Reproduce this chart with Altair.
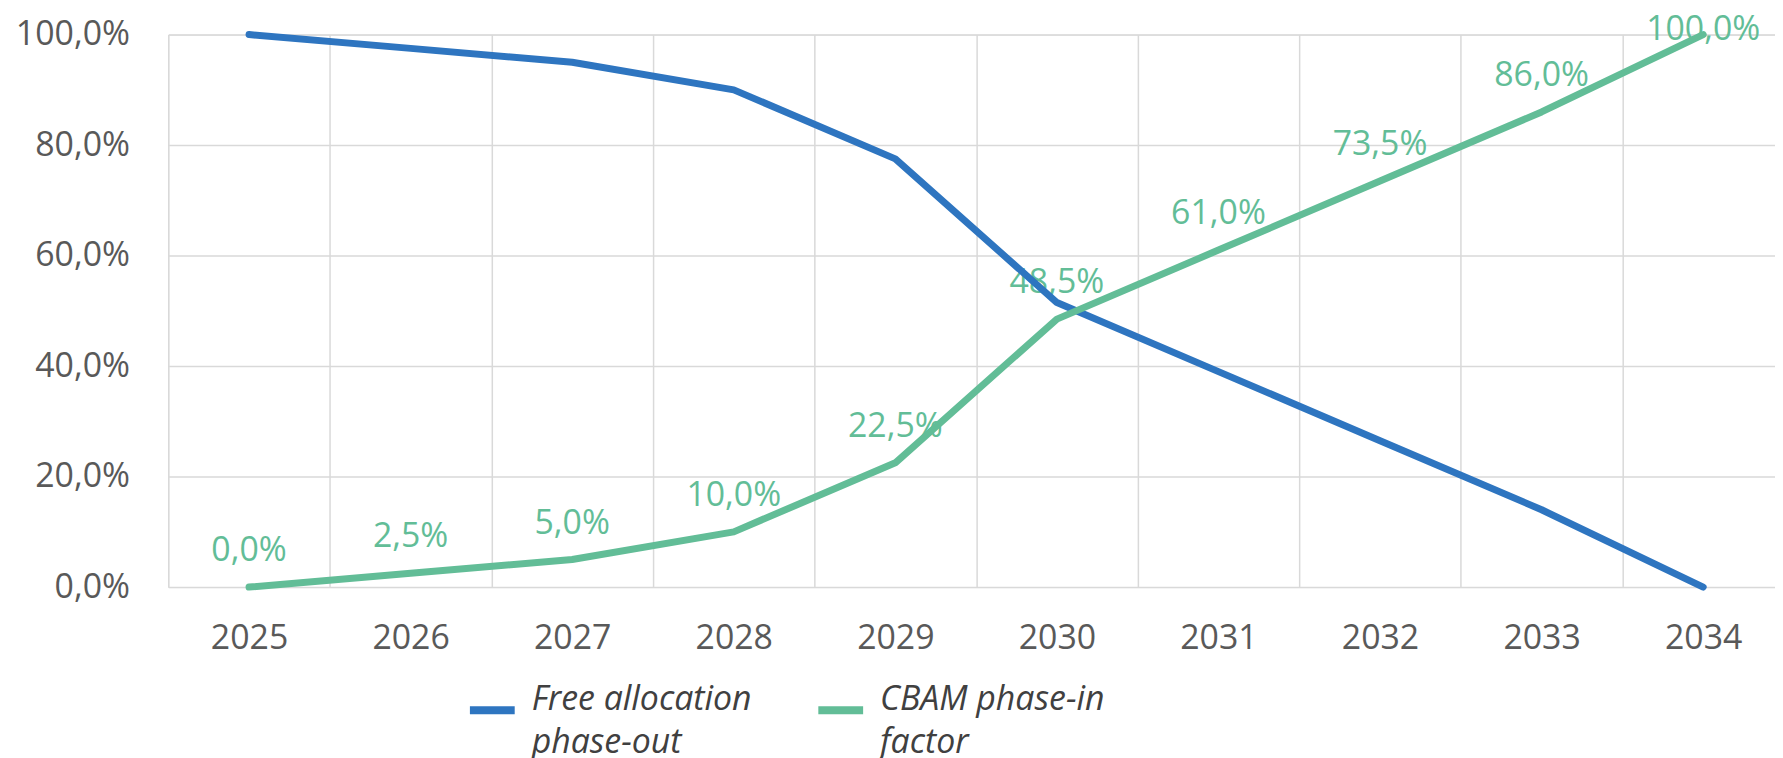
import altair as alt
import pandas as pd

# ---- data ----
years = ["2025", "2026", "2027", "2028", "2029", "2030", "2031", "2032", "2033", "2034"]
free_allocation = [100.0, 97.5, 95.0, 90.0, 77.5, 51.5, 39.0, 26.5, 14.0, 0.0]
cbam_phase_in = [0.0, 2.5, 5.0, 10.0, 22.5, 48.5, 61.0, 73.5, 86.0, 100.0]
series_names = ["Free allocation phase-out", "CBAM phase-in factor"]
legend_lines = [["Free allocation", "phase-out"], ["CBAM phase-in", "factor"]]
series_colors = ["#2E75C0", "#62BD97"]
y_ticks = [0, 20, 40, 60, 80, 100]

rows = []
for name, values in zip(series_names, [free_allocation, cbam_phase_in]):
    for i, (yr, v) in enumerate(zip(years, values)):
        rows.append({"year": yr, "series": name, "value": v, "order": i})
df = pd.DataFrame(rows)

FONT = "Open Sans"
GRAY = "#595959"

pct_expr = "replace(format(datum.value, '.1f'), '.', ',') + '%'"
legend_expr = " : ".join(
    f"datum.label == '{n}' ? {l!r}" for n, l in zip(series_names[:-1], legend_lines[:-1])
) + f" : {legend_lines[-1]!r}"

x_enc = alt.X(
    "year:O",
    sort=years,
    scale=alt.Scale(type="band", paddingInner=0, paddingOuter=0),
    axis=alt.Axis(
        title=None,
        labelAngle=0,
        labelFont=FONT,
        labelFontSize=34,
        labelColor=GRAY,
        labelPadding=35,
        ticks=False,
        tickSize=0,
        domain=False,
        grid=True,
        tickBand="extent",
        gridColor="#d9d9d9",
        gridWidth=1.5,
    ),
)

y_axis = alt.Axis(
    title=None,
    values=y_ticks,
    labelExpr=pct_expr,
    labelFont=FONT,
    labelFontSize=34,
    labelColor=GRAY,
    labelPadding=39,
    ticks=False,
    tickSize=0,
    domain=False,
    grid=True,
    gridColor="#d9d9d9",
    gridWidth=1.5,
)

base = alt.Chart(df)

labels = (
    base.transform_filter(alt.datum.series == series_names[1])
    .transform_calculate(
        label=pct_expr,
        label_y="min(datum.value, 94.4)",
    )
    .mark_text(
        font=FONT,
        fontSize=34,
        baseline="alphabetic",
        align="center",
        dy=-26,
        color=series_colors[1],
    )
    .encode(
        x=x_enc,
        y=alt.Y("label_y:Q", scale=alt.Scale(domain=[0, 100], nice=False, zero=True), axis=y_axis),
        text="label:N",
    )
)

lines = base.mark_line(strokeWidth=7, strokeCap="round", strokeJoin="round").encode(
    x=x_enc,
    y=alt.Y("value:Q", scale=alt.Scale(domain=[0, 100], nice=False, zero=True), axis=y_axis),
    color=alt.Color(
        "series:N",
        scale=alt.Scale(domain=series_names, range=series_colors),
        sort=series_names,
        legend=alt.Legend(
            title=None,
            orient="none",
            legendX=299,
            legendY=652,
            direction="horizontal",
            columns=2,
            symbolType="stroke",
            symbolSize=2025,
            symbolStrokeWidth=8,
            labelFont=FONT,
            labelFontSize=34,
            labelFontStyle="italic",
            labelColor="#404040",
            labelLimit=600,
            labelOffset=13,
            columnPadding=50,
            padding=0,
            labelBaseline="alphabetic",
            labelExpr=legend_expr,
        ),
    ),
    order="order:Q",
)

chart = (
    alt.layer(labels, lines)
    .properties(
        width=1623,
        height=555,
        autosize=alt.AutoSizeParams(type="none"),
        padding={"left": 161, "top": 25, "right": -9, "bottom": 175},
    )
    .configure_view(stroke=None)
    .configure(background="white", style={"guide-label": {"lineHeight": 43}})
)

chart.save("out.html", embed_options={"renderer": "svg", "actions": False})
